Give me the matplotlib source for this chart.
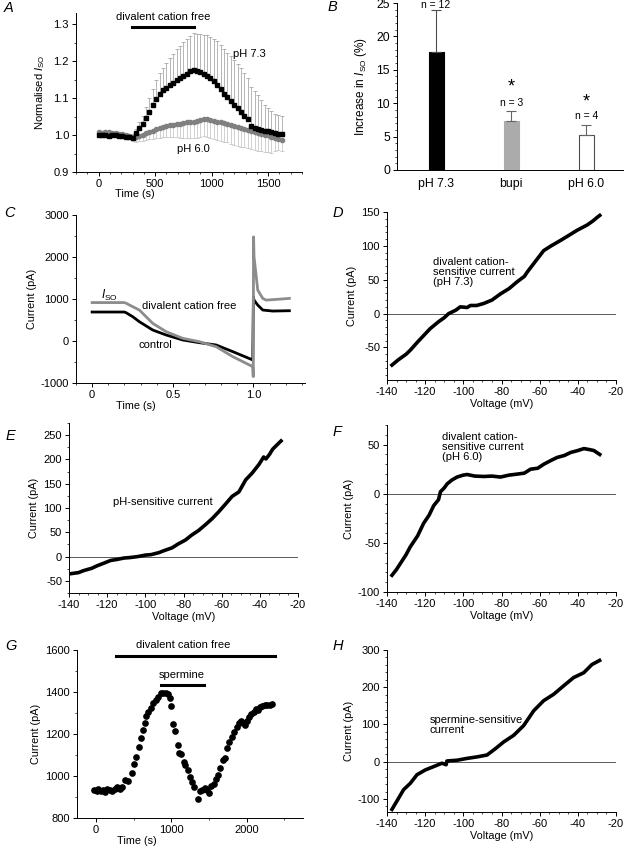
import numpy as np
import matplotlib
matplotlib.use('Agg')
from matplotlib import pyplot as plt
from matplotlib.ticker import MultipleLocator

plt.rcParams['font.family'] = ['Liberation Sans', 'DejaVu Sans']
plt.rcParams['font.size'] = 8
plt.rcParams['mathtext.fontset'] = 'custom'
plt.rcParams['mathtext.rm'] = 'Liberation Sans'
plt.rcParams['mathtext.it'] = 'Liberation Sans:italic'
plt.rcParams['axes.unicode_minus'] = False
plt.rcParams['axes.linewidth'] = 0.7
plt.rcParams['axes.labelsize'] = 7.8
plt.rcParams['xtick.labelsize'] = 8
plt.rcParams['ytick.labelsize'] = 8
plt.rcParams['xtick.major.width'] = 0.7
plt.rcParams['ytick.major.width'] = 0.7
plt.rcParams['xtick.minor.width'] = 0.5
plt.rcParams['ytick.minor.width'] = 0.5
plt.rcParams['xtick.major.size'] = 3
plt.rcParams['ytick.major.size'] = 3
plt.rcParams['xtick.minor.size'] = 1.6
plt.rcParams['ytick.minor.size'] = 1.6
plt.rcParams['xtick.major.pad'] = 2
plt.rcParams['ytick.major.pad'] = 2

# ----------------------------------------------------------------------------
# Data

# A - normalised I_SO vs time
a_time = [0, 30, 60, 90, 120, 150, 180, 210, 240, 270, 300, 330, 360, 390, 420,
          450, 480, 510, 540, 570, 600, 630, 660, 690, 720, 750, 780, 810, 840,
          870, 900, 930, 960, 990, 1020, 1050, 1080, 1110, 1140, 1170, 1200,
          1230, 1260, 1290, 1320, 1350, 1380, 1410, 1440, 1470, 1500, 1530,
          1560, 1590, 1620]
a_ph73 = [1.000, 0.999, 1.000, 0.998, 0.999, 1.000, 0.998, 0.997, 0.996, 0.994,
          0.993, 1.005, 1.018, 1.030, 1.045, 1.062, 1.080, 1.098, 1.112, 1.122,
          1.128, 1.135, 1.142, 1.148, 1.153, 1.160, 1.166, 1.172, 1.177, 1.174,
          1.170, 1.166, 1.160, 1.153, 1.145, 1.135, 1.124, 1.112, 1.102, 1.093,
          1.082, 1.072, 1.062, 1.052, 1.043, 1.025, 1.020, 1.017, 1.014, 1.012,
          1.010, 1.008, 1.006, 1.004, 1.003]
a_ph73_err = [0.010, 0.012, 0.012, 0.010, 0.012, 0.010, 0.010, 0.010, 0.010,
              0.010, 0.010, 0.012, 0.016, 0.022, 0.030, 0.038, 0.045, 0.050,
              0.055, 0.060, 0.066, 0.072, 0.078, 0.084, 0.088, 0.092, 0.095,
              0.097, 0.098, 0.100, 0.102, 0.105, 0.110, 0.113, 0.116, 0.118,
              0.120, 0.120, 0.120, 0.120, 0.120, 0.120, 0.118, 0.115, 0.110,
              0.105, 0.100, 0.090, 0.080, 0.070, 0.062, 0.056, 0.052, 0.050,
              0.048]
a_ph60 = [1.007, 1.006, 1.008, 1.007, 1.006, 1.005, 1.004, 1.003, 1.001, 0.998,
          0.995, 0.994, 0.997, 1.001, 1.005, 1.009, 1.012, 1.016, 1.019, 1.022,
          1.025, 1.026, 1.028, 1.030, 1.031, 1.032, 1.034, 1.035, 1.036, 1.038,
          1.040, 1.044, 1.043, 1.040, 1.038, 1.036, 1.034, 1.032, 1.030, 1.027,
          1.024, 1.021, 1.018, 1.016, 1.013, 1.010, 1.008, 1.005, 1.003, 1.001,
          0.999, 0.996, 0.993, 0.990, 0.986]
a_ph60_err = [0.012, 0.012, 0.010, 0.012, 0.010, 0.010, 0.010, 0.010, 0.010,
              0.010, 0.010, 0.012, 0.014, 0.016, 0.018, 0.020, 0.022, 0.024,
              0.026, 0.028, 0.030, 0.032, 0.034, 0.036, 0.038, 0.040, 0.042,
              0.043, 0.044, 0.045, 0.046, 0.047, 0.048, 0.049, 0.050, 0.050,
              0.050, 0.050, 0.050, 0.050, 0.050, 0.050, 0.050, 0.049, 0.049,
              0.048, 0.048, 0.047, 0.047, 0.046, 0.046, 0.045, 0.035, 0.030,
              0.028]

# B - increase in I_SO
b_labels = ['pH 7.3', 'bupi', 'pH 6.0']
b_values = [17.7, 7.3, 5.3]
b_errors = [6.2, 1.5, 1.4]
b_n = ['n = 12', 'n = 3', 'n = 4']

# C - current traces (time in s, current in pA)
c_ctrl_t = [0.0, 0.20, 0.21, 0.252, 0.293, 0.376, 0.459, 0.562, 0.665, 0.769,
            0.872, 0.996, 1.000, 1.003, 1.027, 1.058, 1.12, 1.223]
c_ctrl_i = [690, 690, 675, 578, 459, 261, 143, 24, -40, -95, -253, -451, 1053,
            980, 855, 737, 713, 721]
c_dcf_t = [0.0, 0.20, 0.21, 0.252, 0.293, 0.376, 0.459, 0.562, 0.665, 0.769,
           0.872, 0.996, 0.999, 1.001, 1.004, 1.027, 1.058, 1.079, 1.14, 1.223]
c_dcf_i = [915, 915, 900, 816, 737, 420, 222, 63, -16, -135, -372, -610, -847,
           2479, 2000, 1212, 1014, 974, 990, 1014]

# D - divalent cation-sensitive current (pH 7.3)
d_v = [-137.4, -134, -130, -127.8, -124, -120, -117.3, -113, -110, -107.7,
       -104, -101.6, -98, -96.3, -93, -89.3, -85, -80.6, -76, -71.8, -68,
       -66.6, -62, -57.9, -54, -49.1, -45, -40.4, -35, -32, -29.9, -28.5]
d_i = [-76, -68, -60, -54, -42, -30, -22, -12, -6, 0, 5, 10, 9, 12, 12, 15,
       20, 29, 37, 47, 55, 61, 78, 93, 100, 108, 115, 123, 131, 137, 142, 145]

# E - pH-sensitive current
e_v = [-138.6, -135, -132.4, -128, -125.3, -122, -118.2, -115, -111.2, -108,
       -104, -100, -97, -93, -90, -86, -82.8, -79, -75.8, -72, -68.7, -65,
       -61.6, -58, -54.5, -51, -47.4, -44, -40.4, -38, -36.8, -35, -33.3,
       -31, -28.9]
e_i = [-35, -33, -29, -24, -19, -14, -8, -6, -3, -2, 0, 3, 4, 8, 12.5, 18, 26,
       34, 44, 54, 65, 78, 92, 108, 124, 133, 158, 172, 190, 205, 201, 210,
       221, 230, 238]

# F - divalent cation-sensitive current (pH 6.0)
f_v = [-137.4, -135, -133, -130, -127.8, -124, -120.8, -118, -115.5, -113,
       -112, -110, -108.5, -106, -103.3, -100, -98, -94, -89.3, -85, -80.6,
       -76, -71.8, -68, -64.8, -61, -57.9, -54, -50.8, -47, -43.8, -40,
       -36.8, -34, -31.6, -28.5]
f_i = [-83, -77, -71, -62, -54, -43, -30, -22, -12, -6, 2, 6, 10, 14, 17, 19,
       19.6, 18, 17.6, 18, 17, 19, 20, 21, 25, 26, 30, 34, 37, 39, 42, 44, 46,
       45, 44, 40]

# G - current time course, dots (time in s, current in pA)
g_time = [-22, 9, 35, 66, 97, 123, 154, 185, 220, 256, 286, 317, 352, 388, 432,
          476, 507, 537, 573, 595, 626, 648, 670, 696, 727, 758, 793, 828, 859,
          890, 925, 956, 982, 1004, 1026, 1057, 1088, 1110, 1137, 1167, 1189,
          1220, 1247, 1278, 1308, 1352, 1379, 1410, 1445, 1476, 1507, 1533,
          1564, 1595, 1621, 1652, 1683, 1709, 1740, 1771, 1806, 1837, 1868,
          1894, 1925, 1952, 1982, 2009, 2035, 2062, 2093, 2123, 2154, 2185,
          2211, 2247, 2278, 2308, 2335]
g_curr = [933, 930, 937, 929, 933, 925, 937, 933, 930, 940, 949, 937, 949, 981,
          978, 1016, 1057, 1092, 1137, 1179, 1219, 1251, 1286, 1306, 1322,
          1349, 1362, 1378, 1394, 1394, 1394, 1390, 1370, 1333, 1248, 1216,
          1148, 1111, 1105, 1068, 1052, 1029, 997, 973, 946, 889, 930, 933,
          941, 933, 917, 952, 962, 984, 1005, 1037, 1076, 1087, 1132, 1163,
          1184, 1211, 1235, 1251, 1263, 1254, 1243, 1263, 1279, 1295, 1306,
          1317, 1314, 1330, 1333, 1338, 1337, 1338, 1343]

# H - spermine-sensitive current
h_v = [-137.4, -134.4, -131.3, -127.8, -124.3, -119.9, -115.5, -111.2, -109,
       -108.6, -103.3, -98, -92.8, -87.6, -83.2, -78.9, -73.6, -68.4, -63.1,
       -57.9, -52.7, -47.4, -42.2, -36.9, -32.6, -28.6]
h_i = [-128, -102, -75, -58, -35, -22, -13, -4, -8, 2, 4, 9, 13, 18, 35, 53,
       71, 97, 137, 164, 181, 204, 226, 239, 261, 272]

# ----------------------------------------------------------------------------

W, H = 624, 848
fig = plt.figure(figsize=(W/100, H/100), dpi=100)


def add_ax(l, r, t, b):
    ax = fig.add_axes([l/W, 1-b/H, (r-l)/W, (b-t)/H])
    ax.spines['top'].set_visible(False)
    ax.spines['right'].set_visible(False)
    ax.tick_params(which='both', direction='out')
    return ax
#def


def panel_label(x, y, s):
    fig.text(x/W, 1-y/H, s, fontsize=10.5, style='italic', ha='left', va='center')
#def


def iv_axes(ax):
    ax.set_xlim(-140, -20)
    ax.xaxis.set_major_locator(MultipleLocator(20))
    ax.xaxis.set_minor_locator(MultipleLocator(5))
    ax.axhline(0, color='0.35', lw=0.7, zorder=1)
    ax.set_xlabel('Voltage (mV)', labelpad=1.5)
    ax.set_ylabel('Current (pA)', labelpad=3)
#def

# --- A
ax = add_ax(76, 302, 13, 172)
ax.errorbar(a_time, a_ph73, yerr=[np.zeros(len(a_ph73_err)), a_ph73_err],
            fmt='none', ecolor='0.6', elinewidth=0.5, capsize=1.3, capthick=0.5, zorder=2)
ax.errorbar(a_time, a_ph60, yerr=[a_ph60_err, np.zeros(len(a_ph60_err))],
            fmt='none', ecolor='0.75', elinewidth=0.5, capsize=1.3, capthick=0.5, zorder=2)
ax.plot(a_time, a_ph73, 's', color='black', ms=2.6, mec='black', zorder=4)
ax.plot(a_time, a_ph60, 'o', color='0.5', ms=3.0, mec='0.5', zorder=3)
ax.set_xlim(-200, 1800)
ax.set_ylim(0.9, 1.33)
ax.xaxis.set_major_locator(MultipleLocator(500))
ax.xaxis.set_minor_locator(MultipleLocator(100))
ax.yaxis.set_minor_locator(MultipleLocator(0.05))
ax.set_yticks([0.9, 1.0, 1.1, 1.2, 1.3])
ax.set_yticklabels(['0.9', '1.0', '1.1', '1.2', '1.3'])
ax.plot([298, 842], [1.292, 1.292], color='black', lw=2.2, clip_on=False)
ax.text(570, 1.318, 'divalent cation free', ha='center', va='center')
ax.text(1333, 1.218, 'pH 7.3', ha='center', va='center')
ax.text(836, 0.963, 'pH 6.0', ha='center', va='center')
ax.set_xlabel('Time (s)')
ax.xaxis.set_label_coords(0.26, -0.105)
ax.set_ylabel(r'Normalised $\mathit{I}_{\mathrm{SO}}$', fontsize=8, labelpad=5)

# --- B
ax = add_ax(397, 623, 3, 170)
xpos = np.arange(len(b_values))
ax.bar(xpos, b_values, width=0.2, color=['black', '0.67', 'white'],
       edgecolor=['black', '0.67', '0.3'], linewidth=0.8)
for i in range(len(b_values)):
    ec = '0.3' if i == 0 else '0.4'
    ax.errorbar(xpos[i], b_values[i], yerr=[[0], [b_errors[i]]], fmt='none',
                ecolor=ec, elinewidth=0.8, capsize=3.5, capthick=0.8)
ax.text(0, 24.7, b_n[0], ha='center', va='center', fontsize=7.5)
ax.text(1, 10.0, b_n[1], ha='center', va='center', fontsize=7.5)
ax.text(2, 8.1, b_n[2], ha='center', va='center', fontsize=7.5)
ax.text(1, 12.4, '*', ha='center', va='center', fontsize=13)
ax.text(2, 10.2, '*', ha='center', va='center', fontsize=13)
ax.set_xlim(-0.52, 2.49)
ax.set_ylim(0, 25)
ax.set_xticks(xpos)
ax.set_xticklabels(b_labels, fontsize=8.8)
ax.tick_params(axis='x', length=0, pad=6)
ax.tick_params(axis='y', labelsize=8.8)
ax.yaxis.set_major_locator(MultipleLocator(5))
ax.yaxis.set_minor_locator(MultipleLocator(1))
ax.set_ylabel(r'Increase in $\mathit{I}_{\mathrm{SO}}$ (%)', fontsize=8.5, labelpad=5)

# --- C
ax = add_ax(76, 305, 215, 383)
ax.plot(c_ctrl_t, c_ctrl_i, color='black', lw=2.0, zorder=3)
ax.plot(c_dcf_t, c_dcf_i, color='0.55', lw=2.0, zorder=4)
ax.set_xlim(-0.1, 1.32)
ax.set_ylim(-1000, 3000)
ax.set_xticks([0, 0.5, 1.0])
ax.set_xticklabels(['0', '0.5', '1.0'])
ax.xaxis.set_minor_locator(MultipleLocator(0.1))
ax.yaxis.set_major_locator(MultipleLocator(1000))
ax.yaxis.set_minor_locator(MultipleLocator(500))
ax.text(0.105, 1080, r'$\mathit{I}_{\mathrm{SO}}$', ha='center', va='center', fontsize=8.5)
ax.text(0.6, 841, 'divalent cation free', ha='center', va='center')
ax.text(0.395, -94, 'control', ha='center', va='center')
ax.set_xlabel('Time (s)')
ax.xaxis.set_label_coords(0.26, -0.105)
ax.set_ylabel('Current (pA)', labelpad=3)

# --- D
ax = add_ax(387, 616, 212, 380)
ax.plot(d_v, d_i, color='black', lw=2.6, zorder=3)
iv_axes(ax)
ax.set_ylim(-98, 150)
ax.yaxis.set_major_locator(MultipleLocator(50))
ax.yaxis.set_minor_locator(MultipleLocator(10))
ax.text(-116, 62, 'divalent cation-\nsensitive current\n(pH 7.3)', ha='left',
        va='center', linespacing=1.0)

# --- E
ax = add_ax(69, 298, 423, 593)
ax.plot(e_v, e_i, color='black', lw=2.6, zorder=3)
iv_axes(ax)
ax.set_ylim(-75, 275)
ax.yaxis.set_major_locator(MultipleLocator(50))
ax.yaxis.set_minor_locator(MultipleLocator(25))
ax.text(-91, 113, 'pH-sensitive current', ha='center', va='center')

# --- F
ax = add_ax(387, 616, 425, 592)
ax.plot(f_v, f_i, color='black', lw=2.6, zorder=3)
iv_axes(ax)
ax.set_ylim(-100, 70)
ax.yaxis.set_major_locator(MultipleLocator(50))
ax.yaxis.set_minor_locator(MultipleLocator(10))
ax.text(-111.3, 47.5, 'divalent cation-\nsensitive current\n(pH 6.0)', ha='left',
        va='center', linespacing=1.0)

# --- G
ax = add_ax(77, 303, 650, 818)
ax.plot(g_time, g_curr, 'o', color='black', ms=3.8, zorder=3)
ax.set_xlim(-250, 2750)
ax.set_ylim(800, 1600)
ax.xaxis.set_major_locator(MultipleLocator(1000))
ax.xaxis.set_minor_locator(MultipleLocator(500))
ax.yaxis.set_major_locator(MultipleLocator(200))
ax.yaxis.set_minor_locator(MultipleLocator(100))
ax.plot([264, 2379], [1571, 1571], color='black', lw=2.2, clip_on=False)
ax.plot([868, 1441], [1433, 1433], color='black', lw=2.2, clip_on=False)
ax.text(1166, 1624, 'divalent cation free', ha='center', va='center')
ax.text(1143, 1481, 'spermine', ha='center', va='center')
ax.set_xlabel('Time (s)')
ax.xaxis.set_label_coords(0.265, -0.105)
ax.set_ylabel('Current (pA)', labelpad=3)

# --- H
ax = add_ax(387, 616, 650, 812)
ax.plot(h_v, h_i, color='black', lw=2.6, zorder=3)
iv_axes(ax)
ax.set_ylim(-135, 300)
ax.yaxis.set_major_locator(MultipleLocator(100))
ax.yaxis.set_minor_locator(MultipleLocator(20))
ax.text(-117.8, 99, 'spermine-sensitive\ncurrent', ha='left', va='center',
        linespacing=1.0)

# panel letters
panel_label(4, 8, 'A')
panel_label(328, 7, 'B')
panel_label(4, 213, 'C')
panel_label(333, 213, 'D')
panel_label(6, 436, 'E')
panel_label(333, 432, 'F')
panel_label(5, 646, 'G')
panel_label(333, 646, 'H')

fig.savefig('out.png', dpi=100)
